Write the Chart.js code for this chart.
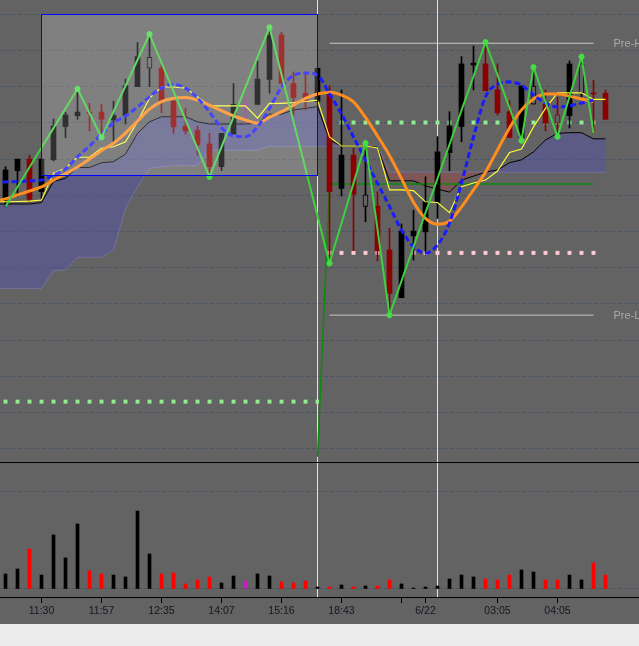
<!DOCTYPE html>
<html><head><meta charset="utf-8">
<script src="https://cdn.jsdelivr.net/npm/chart.js@4.4.1/dist/chart.umd.min.js"></script>
<style>
html,body{margin:0;padding:0;background:#ececec;width:639px;height:646px;overflow:hidden}
.pane{position:relative;width:639px;background:#636363}
canvas{display:block}
</style></head>
<body>
<div class="pane" style="height:462px"><canvas id="pc" width="639" height="462"></canvas></div>
<div class="pane" style="height:162px"><canvas id="vc" width="639" height="162"></canvas></div>
<script>
// ---- candles (one per bar, bar 0 .. 50) ----
const candleOpen  = [68.9,76.8,80.0,71.0,79.8,89.0,92.0,92.9,93.0,90.8, 92.0,100.0,105.1,105.1,96.0,89.1,88.0,84.2,77.9,86.9, 95.0,95.1,102.0,114.3,100.9,98.2,95.9,98.3,71.9,81.1, 66.9,67.0,54.9,41.7,58.8,59.9,68.0,81.8,89.0,106.0, 106.3,99.1,93.1,86.0,95.2,95.2,92.2,92.0,98.2,98.3, 98.2];
const candleHigh  = [77.9,80.0,81.1,80.0,91.1,92.9,99.4,95.4,95.2,96.0, 102.1,112.2,114.5,106.3,96.2,94.0,89.1,87.1,87.1,100.9, 97.1,107.1,116.4,115.1,104.1,103.5,105.1,100.2,99.1,83.0, 84.4,71.0,60.9,62.1,65.9,75.1,86.2,93.1,108.3,111.2, 112.3,106.3,96.1,100.2,105.4,99.1,97.1,107.1,108.3,101.8, 99.1];
const candleLow   = [66.9,69.8,68.1,68.9,79.5,85.9,91.0,87.8,86.0,84.8, 89.7,100.0,100.0,92.8,87.1,86.9,81.1,75.1,76.8,86.9, 89.9,95.1,98.2,100.9,92.2,93.6,95.9,51.2,69.8,54.7, 62.7,51.9,36.9,41.7,52.1,54.0,63.6,76.8,84.8,99.1, 98.9,92.2,86.0,85.1,95.2,87.8,86.2,88.6,97.2,87.1, 91.0];
const candleClose = [77.0,80.0,68.9,80.0,89.1,92.2,93.0,92.7,91.0,92.1, 100.3,108.3,108.1,95.9,88.9,87.8,83.9,77.9,87.1,95.1, 95.0,102.1,114.3,100.9,97.0,95.9,105.1,71.0,81.1,70.3, 70.1,54.7,42.9,60.1,60.1,68.2,82.0,89.1,106.3,106.5, 98.9,92.8,86.0,100.2,100.2,89.9,89.9,106.3,106.3,98.0, 91.0];
const hollowCandles = [12,30,44,46,48];
const volume = [155,206,412,144,557,320,670,186,155,144, 124,804,361,155,165,52,93,124,62,134, 82,155,134,72,62,82,21,21,41,21, 31,31,93,52,10,21,31,103,144,124, 103,93,144,196,175,93,93,144,93,268, 144];

// ---- indicators (first value = bar -1, just off the left edge) ----
const fastAvg  = [73.5, 73.7,73.8,74.0,74.2,75.6,77.3,80.6,83.6,86.9,90.0, 91.9,94.4,97.2,99.6,100.7,99.6,96.9,93.0,88.6,86.4, 86.2,88.9,94.0,99.9,103.1,103.8,103.2,98.0,92.5,86.1, 79.8,73.3,66.9,60.4,55.8,54.0,56.3,62.3,73.4,86.1, 97.2,100.7,101.3,100.5,97.7,95.5,94.4,94.7,95.5,96.3];
const slowAvg  = [68.3, 69.0,70.1,71.2,72.3,74.2,75.9,77.8,80.0,82.4,84.4, 87.2,90.5,93.8,95.9,96.8,97.0,96.3,94.9,93.4,91.9, 90.8,89.9,91.6,93.1,94.9,96.8,98.0,98.5,97.7,95.8, 91.5,86.4,81.0,74.6,68.1,63.6,62.0,62.9,66.8,71.5, 76.4,82.5,88.6,93.6,96.6,98.0,98.0,97.4,96.6,95.9];
const stepLine = [68.2, 68.2,68.3,68.4,68.7,76.1,77.5,80.5,80.5,83.0,83.4, 84.8,90.3,96.8,99.9,99.9,99.6,97.2,94.7,94.7,94.7, 94.7,91.3,95.4,95.4,95.6,95.9,96.3,86.1,83.6,83.6, 83.6,83.1,71.5,71.5,71.3,68.2,68.0,65.2,72.4,73.4, 74.2,76.7,81.8,82.8,88.9,94.0,98.3,98.3,98.3,96.5, 96.5];
const cloudA   = [67.6, 67.6,67.6,67.6,68.0,73.8,74.7,77.7,77.7,79.0,79.3, 81.4,87.1,90.3,91.7,91.7,91.7,90.3,89.7,89.7,89.7, 89.7,89.9,92.4,92.4,93.6,94.0,94.5,85.3,83.6,83.6, 83.6,83.3,74.0,74.0,74.0,72.6,71.7,70.9,74.2,75.3, 76.4,77.0,79.0,79.8,82.0,85.3,87.1,87.3,87.3,85.6, 85.6];
const cloudB   = [44.3, 44.3,44.3,44.3,44.3,49.2,49.4,52.9,52.9,52.9,54.9, 66.4,72.4,77.5,77.9,78.2,78.2,78.2,82.5,82.5,82.5, 82.5,82.5,83.6,83.6,83.6,83.6,83.6,83.6,83.6,83.6, 83.6,83.6,76.4,76.4,76.4,76.4,76.4,76.4,76.4,76.4, 76.4,76.4,76.4,76.4,76.4,76.4,76.4,76.4,76.4,76.4, 76.4];
const indicatorStart = -1;
const zigzagIdx  = [0,6,8,12,17,22,27,30,32,40,43,44,46,48,49];
const zigzagSide = ['L','H','L','H','L','H','L','H','L','H','L','H','L','H','L'];
const pivotIdx = [26,27,49];
const pivotVal = [-2.2,73.1,73.1];
const preHigh = 112.0, preLow = 36.9, preFrom = 27, preTo = 49;
const levelLowGreen = 13.0, levelLowFrom = 0, levelLowTo = 26;
const levelUpGreen = 90.1, levelUpFrom = 28, levelUpTo = 49;
const levelPink = 54.1, levelPinkFrom = 27, levelPinkTo = 49;
const rangeBox = {from:3, to:26, low:75.6, high:120.0};
const sessionBreaks = [26,36];
const tickIdx  = [3,8,13,18,23,28,33,35,41,46];
const tickText = ['11:30','11:57','12:35','14:07','15:16','18:43','','6/22','03:05','04:05'];

// ---- build ----
const BG = '#636363';
const GRID = '#4a5866';
const idx = candleOpen.map((_, i) => i);
const dirColor = i => candleClose[i] > candleOpen[i] ? '#000000' : (candleClose[i] < candleOpen[i] ? '#8b0000' : '#b020b0');
const volColor = i => candleClose[i] > candleOpen[i] ? '#000000' : (candleClose[i] < candleOpen[i] ? '#ff0000' : '#c020c0');
const pts = arr => arr.map((v, i) => ({x:i + indicatorStart, y:v}));
const levelPts = (v, a, b) => { const o = []; for (let i = a; i <= b; i++) o.push({x:i, y:v}); return o; };
const X_MIN = -5.5/12, X_MAX = (639-5.5)/12;
const zigzagPts = zigzagIdx.map((i, k) => ({x:i, y: zigzagSide[k] === 'H' ? candleHigh[i] : candleLow[i]}));

const lineBase = {type:'line', pointRadius:0, borderCapStyle:'butt'};
const priceDatasets = [
  Object.assign({}, lineBase, {data: zigzagPts, borderColor:'#3fcf3f', borderWidth:2, order:1,
    pointRadius: zigzagIdx.map((_, k) => (k === 0 || k === zigzagIdx.length-1) ? 0 : 2.6),
    pointBackgroundColor:'#46dc46', pointBorderColor:'#46dc46', pointBorderWidth:1}),
  Object.assign({}, lineBase, {data: pts(fastAvg), borderColor:'#1a1aff', borderWidth:3, borderDash:[6,3], cubicInterpolationMode:'monotone', order:2}),
  Object.assign({}, lineBase, {data: pts(slowAvg), borderColor:'#ff8c1f', borderWidth:3, cubicInterpolationMode:'monotone', order:3}),
  Object.assign({}, lineBase, {data: pts(stepLine), borderColor:'#ffff33', borderWidth:1.1, order:4}),
  {type:'bar', data: idx.map(i => ({x:i, y:[candleOpen[i], candleClose[i]]})), grouped:false, barThickness:5, minBarLength:1,
    backgroundColor: idx.map(i => hollowCandles.includes(i) ? BG : dirColor(i)),
    borderColor: idx.map(dirColor), borderWidth: idx.map(i => hollowCandles.includes(i) ? 1 : 0), borderSkipped:false, order:5},
  {type:'bar', data: idx.map(i => ({x:i, y:[candleLow[i], candleHigh[i]]})), grouped:false, barThickness:1,
    backgroundColor: idx.map(dirColor), borderWidth:0, order:6},
  Object.assign({}, lineBase, {data: pivotIdx.map((i, k) => ({x:i, y:pivotVal[k]})), borderColor:'#0b8a0b', borderWidth:1.5, order:7}),
  {type:'line', data: levelPts(levelLowGreen, levelLowFrom, levelLowTo), showLine:false, pointStyle:'rect', pointRadius:2.8, pointBorderWidth:0, pointBackgroundColor:'#90ee90', order:8},
  {type:'line', data: levelPts(levelUpGreen, levelUpFrom, levelUpTo), showLine:false, pointStyle:'rect', pointRadius:2.8, pointBorderWidth:0, pointBackgroundColor:'#90ee90', order:8},
  {type:'line', data: levelPts(levelPink, levelPinkFrom, levelPinkTo), showLine:false, pointStyle:'rect', pointRadius:2.8, pointBorderWidth:0, pointBackgroundColor:'#ffc8d2', order:8},
  Object.assign({}, lineBase, {data:[{x:preFrom, y:preHigh},{x:preTo, y:preHigh}], borderColor:'#c8c8c8', borderWidth:1, order:9}),
  Object.assign({}, lineBase, {data:[{x:preFrom, y:preLow},{x:preTo, y:preLow}], borderColor:'#c8c8c8', borderWidth:1, order:9}),
  Object.assign({}, lineBase, {data: pts(cloudA), borderColor:'#000000', borderWidth:1, order:10,
    fill:{target:13, above:'rgba(80,80,180,0.42)', below:'rgba(160,72,72,0.45)'}}),
  Object.assign({}, lineBase, {data: pts(cloudB), borderColor:'#7a7aa8', borderWidth:1, order:11})
];

const zeroWidth = axis => { axis.width = 0; };
const decorPrice = {
  id:'decorPrice',
  beforeDatasetsDraw(chart) {
    const {ctx, chartArea, scales:{x}} = chart;
    ctx.save();
    ctx.strokeStyle = '#e4e4e4'; ctx.lineWidth = 1;
    sessionBreaks.forEach(i => { const px = x.getPixelForValue(i); ctx.beginPath(); ctx.moveTo(px, chartArea.top); ctx.lineTo(px, chartArea.bottom); ctx.stroke(); });
    ctx.restore();
  },
  afterDatasetsDraw(chart) {
    const {ctx, scales:{x, y}} = chart;
    ctx.save();
    const x1 = x.getPixelForValue(rangeBox.from), x2 = x.getPixelForValue(rangeBox.to);
    const y1 = y.getPixelForValue(rangeBox.high), y2 = y.getPixelForValue(rangeBox.low);
    ctx.fillStyle = 'rgba(255,255,255,0.19)';
    ctx.fillRect(x1, y1, x2 - x1, y2 - y1);
    ctx.strokeStyle = '#0000ff'; ctx.lineWidth = 1;
    ctx.strokeRect(x1, Math.round(y1) + 0.5, x2 - x1, Math.round(y2) - Math.round(y1));
    ctx.fillStyle = '#a9a9a9';
    ctx.font = '11px "Liberation Sans", Arial, sans-serif';
    ctx.textBaseline = 'middle'; ctx.textAlign = 'left';
    const tx = x.getPixelForValue(preTo) + 20;
    ctx.fillText('Pre-H', tx, y.getPixelForValue(preHigh) + 1);
    ctx.fillText('Pre-L', tx, y.getPixelForValue(preLow) + 1);
    ctx.restore();
  }
};

new Chart(document.getElementById('pc'), {
  type:'bar',
  data:{datasets: priceDatasets},
  options:{
    responsive:false, animation:false, events:[],
    layout:{padding:0, autoPadding:false},
    plugins:{legend:{display:false}, tooltip:{enabled:false}, filler:{propagate:false}},
    scales:{
      x:{type:'linear', min:X_MIN, max:X_MAX, offset:false, display:false},
      y:{type:'linear', min:-3.674, max:123.95, display:true, afterFit:zeroWidth,
         afterBuildTicks(axis){ const t=[]; for (let v=0; v<=120; v+=10) t.push({value:v}); axis.ticks=t; },
         ticks:{display:false}, grid:{color:GRID, lineWidth:1, drawTicks:false},
         border:{display:false, dash:[4,2]}}
    }
  },
  plugins:[decorPrice]
});

const decorVol = {
  id:'decorVol',
  beforeDatasetsDraw(chart) {
    const {ctx, chartArea, scales:{x}} = chart;
    ctx.save();
    ctx.strokeStyle = '#e4e4e4'; ctx.lineWidth = 1;
    sessionBreaks.forEach(i => { const px = x.getPixelForValue(i); ctx.beginPath(); ctx.moveTo(px, chartArea.top); ctx.lineTo(px, chartArea.bottom); ctx.stroke(); });
    ctx.strokeStyle = '#000000';
    ctx.beginPath(); ctx.moveTo(0, 0.5); ctx.lineTo(chart.width, 0.5); ctx.stroke();
    ctx.restore();
  }
};

new Chart(document.getElementById('vc'), {
  type:'bar',
  data:{datasets:[{data: idx.map(i => ({x:i, y:volume[i]})), barThickness:3, grouped:false,
    backgroundColor: idx.map(volColor), borderWidth:0}]},
  options:{
    responsive:false, animation:false, events:[],
    layout:{padding:0, autoPadding:false},
    plugins:{legend:{display:false}, tooltip:{enabled:false}},
    scales:{
      x:{type:'linear', min:X_MIN, max:X_MAX, offset:false, position:'bottom',
         afterBuildTicks(axis){ axis.ticks = tickIdx.map(v => ({value:v})); },
         afterFit(axis){ axis.height = 27; },
         ticks:{autoSkip:false, maxRotation:0, minRotation:0, padding:2, color:'#1a1420',
           font:{family:'"Liberation Sans", Arial, sans-serif', size:10.5},
           callback:(v) => { const k = tickIdx.indexOf(v); return k >= 0 ? tickText[k] : ''; }},
         grid:{display:true, drawOnChartArea:false, drawTicks:true, tickLength:6, color:'#000000', offset:false},
         border:{display:true, color:'#000000', width:1}},
      y:{type:'linear', min:-82.5, max:1309, display:true, afterFit:zeroWidth,
         afterBuildTicks(axis){ axis.ticks = [{value:0},{value:1000}]; },
         ticks:{display:false}, grid:{color:GRID, lineWidth:1, drawTicks:false},
         border:{display:false, dash:[4,2]}}
    }
  },
  plugins:[decorVol]
});
</script>
</body></html>
